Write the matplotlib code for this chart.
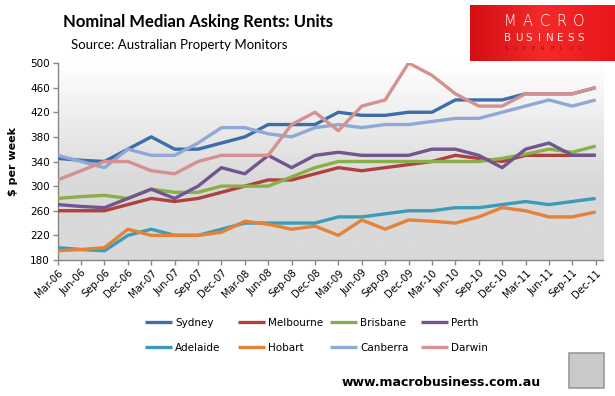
import matplotlib
matplotlib.use("Agg")
import matplotlib.pyplot as plt
import numpy as np
from matplotlib.patches import Rectangle
from matplotlib.colors import LinearSegmentedColormap

dates = ['Mar-06', 'Jun-06', 'Sep-06', 'Dec-06', 'Mar-07', 'Jun-07', 'Sep-07', 'Dec-07',
         'Mar-08', 'Jun-08', 'Sep-08', 'Dec-08', 'Mar-09', 'Jun-09', 'Sep-09', 'Dec-09',
         'Mar-10', 'Jun-10', 'Sep-10', 'Dec-10', 'Mar-11', 'Jun-11', 'Sep-11', 'Dec-11']

sydney    = [345, 342, 340, 360, 380, 360, 360, 370, 380, 400, 400, 400,
             420, 415, 415, 420, 420, 440, 440, 440, 450, 450, 450, 460]
melbourne = [260, 260, 260, 270, 280, 275, 280, 290, 300, 310, 310, 320,
             330, 325, 330, 335, 340, 350, 345, 340, 350, 350, 350, 350]
brisbane  = [280, 283, 285, 280, 295, 290, 290, 300, 300, 300, 315, 330,
             340, 340, 340, 340, 340, 340, 340, 345, 352, 360, 355, 365]
perth     = [270, 267, 265, 280, 295, 280, 300, 330, 320, 350, 330, 350,
             355, 350, 350, 350, 360, 360, 350, 330, 360, 370, 350, 350]
adelaide  = [200, 197, 195, 220, 230, 220, 220, 230, 240, 240, 240, 240,
             250, 250, 255, 260, 260, 265, 265, 270, 275, 270, 275, 280]
hobart    = [195, 197, 200, 230, 220, 220, 220, 225, 243, 238, 230, 235,
             220, 245, 230, 245, 243, 240, 250, 265, 260, 250, 250, 258]
canberra  = [350, 340, 330, 360, 350, 350, 370, 395, 395, 385, 380, 395,
             400, 395, 400, 400, 405, 410, 410, 420, 430, 440, 430, 440]
darwin    = [310, 325, 340, 340, 325, 320, 340, 350, 350, 350, 400, 420,
             390, 430, 440, 500, 480, 450, 430, 430, 450, 450, 450, 460]

series_names = ['Sydney', 'Melbourne', 'Brisbane', 'Perth',
                'Adelaide', 'Hobart', 'Canberra', 'Darwin']
series_values = [sydney, melbourne, brisbane, perth, adelaide, hobart, canberra, darwin]
colors = ['#3D6DAA', '#B0403D', '#8AAE48', '#71558F',
          '#3F9BB5', '#E5823A', '#8FA9D4', '#D4918F']

yticks = [180, 220, 260, 300, 340, 380, 420, 460, 500]

W, H = 615, 396
fig = plt.figure(figsize=(W / 100, H / 100), dpi=100)
fig.patch.set_facecolor('white')

def fx(px):
    return px / W

def fy(py):
    return 1 - py / H

left, right, top, bottom = 57.7, 603.3, 63, 260
ax = fig.add_axes([fx(left), fy(bottom), fx(right - left), (bottom - top) / H])

# gradient plot-area background
grad = np.linspace(0, 1, 200)
vals = np.clip(grad / 0.6, 0, 1)
cmap = LinearSegmentedColormap.from_list('bg', ['#FFFFFF', '#D9D9D9'])
ax.imshow(vals[:, None], extent=[0, 1, 0, 1], transform=ax.transAxes,
          aspect='auto', cmap=cmap, vmin=0, vmax=1, zorder=0)

x = np.arange(len(dates))
for name, vals_s, c in zip(series_names, series_values, colors):
    ax.plot(x, vals_s, color=c, lw=2.4, label=name, zorder=3,
            solid_joinstyle='round', solid_capstyle='butt')

ax.set_xlim(0, 23 + (right - 595.7) / 23.39)
ax.set_ylim(180, 500)
ax.set_yticks(yticks)
ax.set_yticklabels([str(v) for v in yticks], fontsize=7.5, family='DejaVu Sans')
ax.set_xticks(x)
ax.set_xticklabels(dates, rotation=45, ha='right', rotation_mode='anchor',
                   fontsize=7.2, family='DejaVu Sans')
for s in ['top', 'right']:
    ax.spines[s].set_visible(False)
for s in ['left', 'bottom']:
    ax.spines[s].set_color('#868686')
    ax.spines[s].set_linewidth(1.0)
ax.tick_params(axis='both', color='#868686', length=3.5, width=1.0, direction='out')
ax.tick_params(axis='y', pad=2)
ax.tick_params(axis='x', pad=2)

ax.set_ylabel('$ per week', fontsize=8, fontweight='bold', family='DejaVu Sans', labelpad=9)

# title & subtitle
fig.text(fx(62.7), fy(27), 'Nominal Median Asking Rents: Units', fontsize=12,
         fontweight='bold', family='Lato', va='baseline', ha='left')
fig.text(fx(70.7), fy(49), 'Source: Australian Property Monitors', fontsize=9.5,
         family='Lato', va='baseline', ha='left')

# legend: four columns at fixed positions
handles = ax.get_lines()
col_x = [147, 240, 332, 423]
for ci in range(4):
    hs = [handles[ci], handles[ci + 4]]
    fig.legend(hs, [h.get_label() for h in hs], loc='upper left',
               bbox_to_anchor=(fx(col_x[ci] - 2), fy(318)), frameon=False,
               handlelength=2.6, handletextpad=0.3,
               borderpad=0, borderaxespad=0, labelspacing=1.45,
               prop={'family': 'DejaVu Sans', 'size': 7.5})

# logo box
lax = fig.add_axes([fx(470), fy(61), fx(615 - 470), (61 - 5) / H])
lax.set_xlim(0, 1)
lax.set_ylim(0, 1)
lax.axis('off')
rg = LinearSegmentedColormap.from_list('red', ['#D40E13', '#F42A2A', '#E8161B'])
lax.imshow(np.linspace(0, 1, 100)[None, :], extent=[0, 1, 0, 1], aspect='auto',
           cmap=rg, zorder=0)
for i, ch in enumerate('MACRO'):
    lax.text((510 + 17.2 * i - 470) / 145, 1 - (22 - 5) / 56, ch, color='white',
             fontsize=10.5, ha='center', va='center', family='DejaVu Sans',
             fontweight='light')
for i, ch in enumerate('BUSINESS'):
    lax.text((508 + 10.4 * i - 470) / 145, 1 - (38 - 5) / 56, ch, color='#FFE0E0',
             fontsize=7.5, ha='center', va='center', family='DejaVu Sans')
for i, ch in enumerate('SUPERBLOG'):
    lax.text((506 + 9.2 * i - 470) / 145, 1 - (49 - 5) / 56, ch, color='#9A1010',
             fontsize=3.8, ha='center', va='center', family='DejaVu Sans')

# footer
fig.text(fx(342), fy(382), 'www.macrobusiness.com.au', fontsize=9, fontweight='bold',
         family='DejaVu Sans', va='center', ha='left')
fig.patches.append(Rectangle((fx(569), fy(388)), fx(35), (388 - 353) / H,
                             transform=fig.transFigure, facecolor='#C9C9C9',
                             edgecolor='#9A9A9A', lw=1.2))

fig.savefig('out.png', dpi=100)
